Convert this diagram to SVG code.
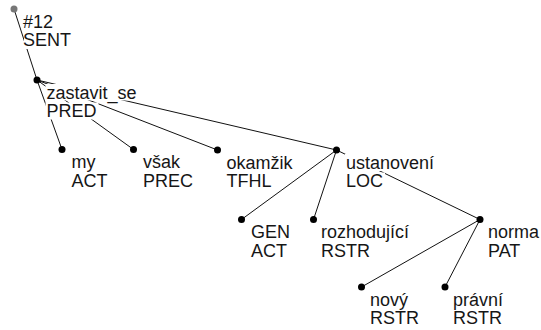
<svg xmlns="http://www.w3.org/2000/svg" width="541" height="330" viewBox="0 0 541 330">
<style>
text{font-family:"Liberation Sans",Arial,sans-serif;font-size:18px;fill:#161616}
.bg{fill:#fff}
.e{stroke:#111;stroke-width:1;fill:none}
.d{fill:#000}
</style>
<rect width="541" height="330" fill="#fff"/>
<g id="edges">
<line class="e" x1="14" y1="9" x2="37" y2="80"/>
<line class="e" x1="37" y1="80" x2="62" y2="149.5"/>
<line class="e" x1="37" y1="80" x2="133.5" y2="149.5"/>
<line class="e" x1="37" y1="80" x2="217.5" y2="150"/>
<line class="e" x1="37" y1="80" x2="336.5" y2="150"/>
<line class="e" x1="336.5" y1="150" x2="241.5" y2="219.5"/>
<line class="e" x1="336.5" y1="150" x2="313.5" y2="219.5"/>
<line class="e" x1="336.5" y1="150" x2="480" y2="219.5"/>
<line class="e" x1="480" y1="219.5" x2="361.5" y2="287"/>
<line class="e" x1="480" y1="219.5" x2="445" y2="287"/>
</g>
<g id="n-root">
<rect class="bg" x="24" y="13" width="32" height="16.5"/>
<rect class="bg" x="24" y="32" width="52" height="17"/>
<circle cx="14" cy="9" r="3.5" fill="#777"/>
<text x="23" y="27.5">#12</text>
<text x="23" y="46">SENT</text>
</g>
<g id="n-zastavit_se">
<rect class="bg" x="45.5" y="84" width="95" height="16.5"/>
<rect class="bg" x="45.5" y="102.5" width="53" height="17"/>
<circle class="d" cx="37" cy="80" r="3.5"/>
<text x="46.5" y="98.5">zastavit_se</text>
<text x="46.5" y="117">PRED</text>
</g>
<g id="n-my">
<rect class="bg" x="70.5" y="153.5" width="28" height="17"/>
<rect class="bg" x="70.5" y="172" width="40" height="17"/>
<circle class="d" cx="62" cy="149.5" r="3.5"/>
<text x="71.5" y="168">my</text>
<text x="71.5" y="186.5">ACT</text>
</g>
<g id="n-vsak">
<rect class="bg" x="142" y="153.5" width="40" height="17"/>
<rect class="bg" x="142" y="172" width="53" height="17"/>
<circle class="d" cx="133.5" cy="149.5" r="3.5"/>
<text x="143" y="168">však</text>
<text x="143" y="186.5">PREC</text>
</g>
<g id="n-okamzik">
<rect class="bg" x="225.5" y="154" width="69" height="17"/>
<rect class="bg" x="225.5" y="172.5" width="48" height="17"/>
<circle class="d" cx="217.5" cy="150" r="3.5"/>
<text x="226.5" y="168.5">okamžik</text>
<text x="226.5" y="187">TFHL</text>
</g>
<g id="n-ustanoveni">
<rect class="bg" x="345" y="154" width="91" height="17"/>
<rect class="bg" x="345" y="172.5" width="40" height="17"/>
<circle class="d" cx="336.5" cy="150" r="3.5"/>
<text x="346" y="168.5">ustanovení</text>
<text x="346" y="187">LOC</text>
</g>
<g id="n-gen">
<rect class="bg" x="250" y="223.5" width="42" height="17"/>
<rect class="bg" x="250" y="242" width="40" height="17"/>
<circle class="d" cx="241.5" cy="219.5" r="3.5"/>
<text x="251" y="238">GEN</text>
<text x="251" y="256.5">ACT</text>
</g>
<g id="n-rozhodujici">
<rect class="bg" x="320" y="223.5" width="91" height="17"/>
<rect class="bg" x="320" y="242" width="52" height="17"/>
<circle class="d" cx="313.5" cy="219.5" r="3.5"/>
<text x="321" y="238">rozhodující</text>
<text x="321" y="256.5">RSTR</text>
</g>
<g id="n-norma">
<rect class="bg" x="487" y="223.5" width="54" height="17"/>
<rect class="bg" x="487" y="242" width="38" height="17"/>
<circle class="d" cx="480" cy="219.5" r="3.5"/>
<text x="488" y="238">norma</text>
<text x="488" y="256.5">PAT</text>
</g>
<g id="n-novy">
<rect class="bg" x="369" y="291" width="40" height="17"/>
<rect class="bg" x="369" y="309.5" width="52" height="17"/>
<circle class="d" cx="361.5" cy="287" r="3.5"/>
<text x="370" y="305.5">nový</text>
<text x="370" y="324">RSTR</text>
</g>
<g id="n-pravni">
<rect class="bg" x="452" y="291" width="53" height="17"/>
<rect class="bg" x="452" y="309.5" width="52" height="17"/>
<circle class="d" cx="445" cy="287" r="3.5"/>
<text x="453" y="305.5">právní</text>
<text x="453" y="324">RSTR</text>
</g>
</svg>
